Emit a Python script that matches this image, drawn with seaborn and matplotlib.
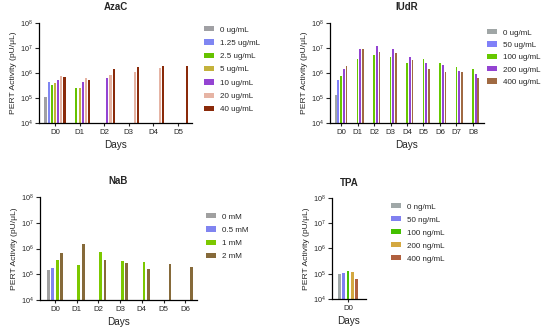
import numpy as np
import pandas as pd
import matplotlib
matplotlib.use("Agg")
import matplotlib.pyplot as plt
from matplotlib.ticker import NullLocator
import seaborn as sns

# --- Data (NaN = no bar) ---
nan = np.nan

AZAC_DAYS = ["D0", "D1", "D2", "D3", "D4", "D5"]
AZAC_DOSES = ["0 ug/mL", "1.25 ug/mL", "2.5 ug/mL", "5 ug/mL", "10 ug/mL", "20 ug/mL", "40 ug/mL"]
AZAC_0 = [1.1e5, nan, nan, nan, nan, nan]
AZAC_125 = [4.5e5, nan, nan, nan, nan, nan]
AZAC_25 = [3.3e5, 2.6e5, nan, nan, nan, nan]
AZAC_5 = [3.9e5, 2.6e5, nan, nan, nan, nan]
AZAC_10 = [5.3e5, 4.5e5, 6.5e5, nan, nan, nan]
AZAC_20 = [7.6e5, 6.5e5, 8.3e5, 1.1e6, 1.6e6, nan]
AZAC_40 = [6.7e5, 5.3e5, 1.5e6, 1.8e6, 1.9e6, 1.9e6]
AZAC_COLORS = ["#a0a0a4", "#7f86f2", "#66c200", "#c4b23c", "#9444d2", "#e6b4a4", "#8a2a0a"]

IUDR_DAYS = ["D0", "D1", "D2", "D3", "D4", "D5", "D6", "D7", "D8"]
IUDR_DOSES = ["0 ug/mL", "50 ug/mL", "100 ug/mL", "200 ug/mL", "400 ug/mL"]
IUDR_0 = [1.3e5, nan, nan, nan, nan, nan, nan, nan, nan]
IUDR_50 = [5.3e5, nan, nan, nan, nan, nan, nan, nan, nan]
IUDR_100 = [7.6e5, 3.6e6, 5.3e6, 4.2e6, 2.6e6, 3.5e6, 2.6e6, 1.8e6, 1.4e6]
IUDR_200 = [1.4e6, 9.0e6, 1.25e7, 9.0e6, 4.2e6, 2.6e6, 2.0e6, 1.15e6, 9.2e5]
IUDR_400 = [1.9e6, 9.0e6, 7.1e6, 6.5e6, 3.3e6, 1.4e6, 1.1e6, 1.1e6, 6.2e5]
IUDR_COLORS = ["#a0a6a6", "#8080f8", "#66c800", "#9444d2", "#a06a42"]

NAB_DAYS = ["D0", "D1", "D2", "D3", "D4", "D5", "D6"]
NAB_DOSES = ["0 mM", "0.5 mM", "1 mM", "2 mM"]
NAB_0 = [1.4e5, nan, nan, nan, nan, nan, nan]
NAB_05 = [1.7e5, nan, nan, nan, nan, nan, nan]
NAB_1 = [3.6e5, 2.3e5, 7.4e5, 3.3e5, 3.1e5, nan, nan]
NAB_2 = [6.6e5, 1.5e6, 3.6e5, 2.8e5, 1.6e5, 2.5e5, 1.9e5]
NAB_COLORS = ["#a0a0a0", "#8084f0", "#7cc800", "#866a3a"]

TPA_DAYS = ["D0"]
TPA_DOSES = ["0 ng/mL", "50 ng/mL", "100 ng/mL", "200 ng/mL", "400 ng/mL"]
TPA_0 = [9.7e4]
TPA_50 = [1.07e5]
TPA_100 = [1.3e5]
TPA_200 = [1.17e5]
TPA_400 = [6.2e4]
TPA_COLORS = ["#a0a8a8", "#8080f0", "#44c000", "#d4a840", "#b0603e"]

W, H = 550, 331


def to_long(days, doses, series):
    rows = []
    for dose, vals in zip(doses, series):
        for d, v in zip(days, vals):
            if not np.isnan(v):
                rows.append({"Day": d, "Dose": dose, "PERT": v})
    return pd.DataFrame(rows)


def px_axes(fig, left, right, top, bottom):
    return fig.add_axes([left / W, 1 - bottom / H, (right - left) / W, (bottom - top) / H])


def draw_panel(fig, box, days, doses, series, colors, title, width, xlim, leg_xy, leg_space):
    ax = px_axes(fig, *box)
    ax.set_yscale("log")
    df = to_long(days, doses, series)
    sns.barplot(data=df, x="Day", y="PERT", hue="Dose", order=days, hue_order=doses,
                palette=colors, width=width, gap=0.35, errorbar=None, saturation=1,
                linewidth=0, ax=ax)
    ax.set_ylim(1e4, 1e8)
    ax.set_xlim(*xlim)
    ax.yaxis.set_minor_locator(NullLocator())
    ax.set_yticks([1e4, 1e5, 1e6, 1e7, 1e8])
    ax.set_title(title, fontsize=7, fontweight="bold", pad=9)
    ax.set_xlabel("Days", fontsize=7.2, labelpad=3)
    ax.set_ylabel("PERT Activity (pU/\u03bcL)", fontsize=6.1, labelpad=2)
    ax.tick_params(axis="y", labelsize=5.2, length=3, width=0.8, pad=1.5)
    ax.tick_params(axis="x", labelsize=5.6, length=2, width=0.8, pad=2)
    for s in ["left", "bottom"]:
        ax.spines[s].set_linewidth(0.9)
        ax.spines[s].set_color("black")
    sns.despine(ax=ax)
    handles, labels = ax.get_legend_handles_labels()
    ax.legend(handles, labels, loc="upper left",
              bbox_to_anchor=(leg_xy[0] / W, 1 - leg_xy[1] / H), bbox_transform=fig.transFigure,
              frameon=False, fontsize=5.8, borderpad=0, borderaxespad=0,
              handlelength=1.25, handleheight=0.65, handletextpad=0.7, labelspacing=leg_space)
    return ax


sns.set_theme(style="ticks")
plt.rcParams["font.family"] = ["Liberation Sans", "DejaVu Sans"]
plt.rcParams["mathtext.fontset"] = "custom"
plt.rcParams["mathtext.rm"] = "Liberation Sans"

fig = plt.figure(figsize=(W / 100, H / 100), dpi=100)

draw_panel(fig, (39, 192, 23, 123), AZAC_DAYS, AZAC_DOSES,
           [AZAC_0, AZAC_125, AZAC_25, AZAC_5, AZAC_10, AZAC_20, AZAC_40],
           AZAC_COLORS, "AzaC", 0.9, (-0.65, 5.57), (204, 26), 0.72)

draw_panel(fig, (330, 484, 23, 123), IUDR_DAYS, IUDR_DOSES,
           [IUDR_0, IUDR_50, IUDR_100, IUDR_200, IUDR_400],
           IUDR_COLORS, "IUdR", 0.82, (-0.67, 8.67), (487, 29), 0.6)

draw_panel(fig, (40, 197, 197, 300), NAB_DAYS, NAB_DOSES,
           [NAB_0, NAB_05, NAB_1, NAB_2],
           NAB_COLORS, "NaB", 0.8, (-0.69, 6.54), (206, 213), 0.72)

draw_panel(fig, (332, 366, 198, 299), TPA_DAYS, TPA_DOSES,
           [TPA_0, TPA_50, TPA_100, TPA_200, TPA_400],
           TPA_COLORS, "TPA", 0.8, (-0.58, 0.65), (391, 203), 0.68)

fig.savefig("out.png", dpi=100)
